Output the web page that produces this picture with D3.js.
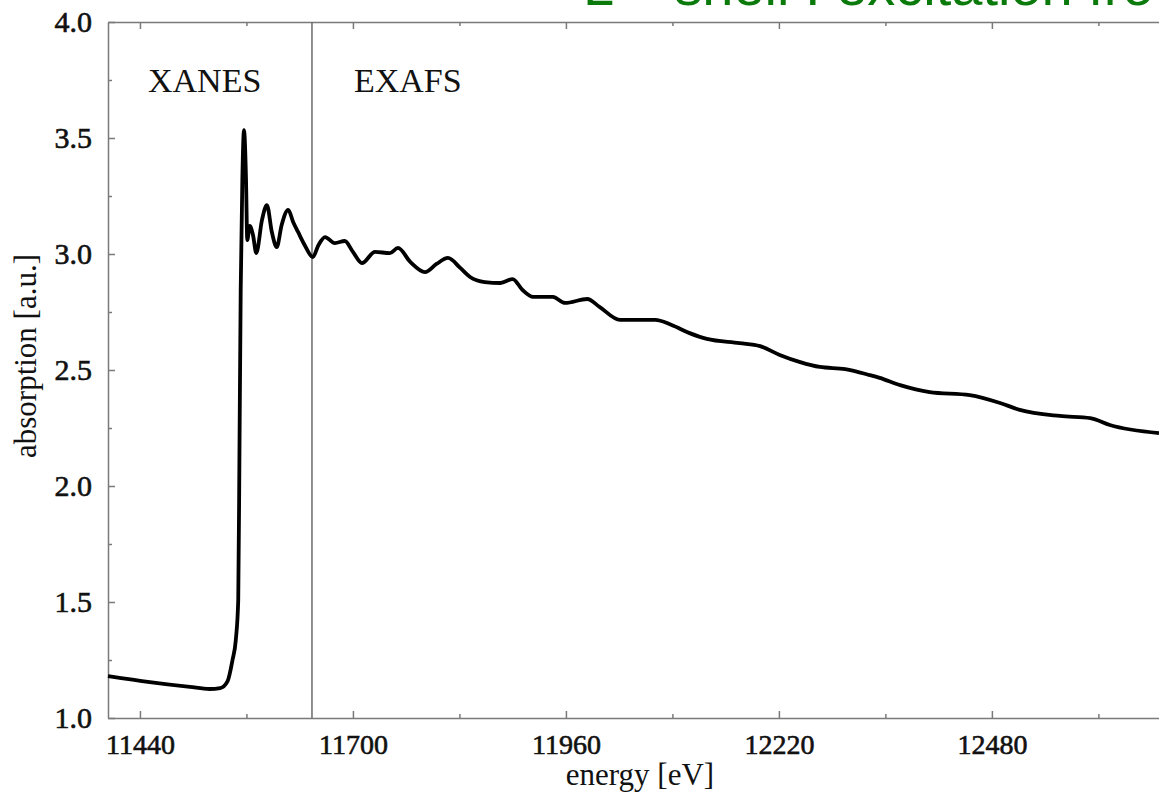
<!DOCTYPE html>
<html>
<head>
<meta charset="utf-8">
<script src="https://cdn.jsdelivr.net/npm/d3@7/dist/d3.min.js"></script>
<style>
  html, body { margin: 0; padding: 0; background: #fff; }
  svg { display: block; }
  .axis path, .axis line { stroke: #7a7a7a; stroke-width: 1.5; }
  .axis text { font-family: "Liberation Serif", "Times New Roman", serif; fill: #111; stroke: #111; stroke-width: 0.6; }
</style>
</head>
<body>
<svg id="chart" width="1159" height="794"></svg>
<script>
// Pt L3 edge absorption spectrum (energy in eV, absorption in a.u.)
const energy = [
  11401, 11452, 11501, 11525, 11538, 11547, 11553, 11557, 11560, 11561.5,
  11563, 11565, 11567, 11569.5, 11571, 11574, 11578, 11582, 11589, 11595,
  11601, 11607, 11613, 11621, 11627, 11633, 11641, 11651, 11658, 11666,
  11678, 11690, 11700, 11711, 11727, 11745, 11755, 11770, 11788, 11802,
  11816, 11831, 11843, 11861, 11880, 11895, 11907, 11920, 11944, 11959,
  11986, 12001, 12026, 12069, 12089, 12111, 12132, 12172, 12197, 12221,
  12246, 12270, 12301, 12331, 12343, 12368, 12404, 12453, 12490, 12514,
  12563, 12600, 12624, 12684
];
const absorption = [
  1.181, 1.155, 1.134, 1.125, 1.129, 1.159, 1.250, 1.336, 1.509, 2.155,
  2.845, 3.319, 3.534, 3.319, 3.060, 3.121, 3.082, 3.004, 3.147, 3.211,
  3.095, 3.030, 3.125, 3.190, 3.138, 3.095, 3.039, 2.987, 3.039, 3.073,
  3.047, 3.056, 3.009, 2.961, 3.009, 3.004, 3.026, 2.966, 2.922, 2.957,
  2.983, 2.940, 2.901, 2.879, 2.875, 2.892, 2.845, 2.815, 2.815, 2.789,
  2.806, 2.772, 2.716, 2.716, 2.694, 2.659, 2.634, 2.616, 2.603, 2.565,
  2.534, 2.513, 2.504, 2.478, 2.466, 2.435, 2.405, 2.392, 2.358, 2.328,
  2.302, 2.293, 2.263, 2.228
];

const xTicks = [11440, 11700, 11960, 12220, 12480];
const xMinorTicks = [11570, 11830, 12090, 12350, 12610];
const yTicks = [1.0, 1.5, 2.0, 2.5, 3.0, 3.5, 4.0];
const yMinorTicks = [1.25, 1.75, 2.25, 2.75, 3.25, 3.75];

const edgeSplit = 11650;                 // XANES / EXAFS boundary
const regionNames = ["XANES", "EXAFS"];
const regionCenters = [11519, 11767];

// slide heading, cropped at the top edge in the original
const slideTitle = "L – shell : excitation fro";

// ---------- layout ----------
const svg = d3.select("#chart");
const plotLeft = 108, plotTop = 22, plotRight = 1159, plotBottom = 718;

const x = d3.scaleLinear().domain([11401, 12684]).range([plotLeft, plotRight]);
const y = d3.scaleLinear().domain([1, 4]).range([plotBottom, plotTop]);

svg.append("text")
  .attr("x", 583).attr("y", 5)
  .attr("font-family", "Liberation Sans, Arial, sans-serif")
  .attr("font-size", 56)
  .attr("fill", "#0a7a0a")
  .text(slideTitle);

// ---------- axes ----------
const gBottom = svg.append("g").attr("class", "axis").attr("transform", `translate(0,${plotBottom})`);
gBottom.call(d3.axisBottom(x).tickValues(xTicks).tickSize(-7).tickSizeOuter(0)
  .tickPadding(16).tickFormat(d3.format("d")));
gBottom.append("g").call(d3.axisBottom(x).tickValues(xMinorTicks).tickSize(-4).tickFormat(""))
  .select(".domain").remove();
gBottom.selectAll("text").attr("font-size", 28);

const gTop = svg.append("g").attr("class", "axis").attr("transform", `translate(0,${plotTop})`);
gTop.call(d3.axisTop(x).tickValues(xTicks).tickSize(-7).tickSizeOuter(0).tickFormat(""));
gTop.append("g").call(d3.axisTop(x).tickValues(xMinorTicks).tickSize(-4).tickFormat(""))
  .select(".domain").remove();

const gLeft = svg.append("g").attr("class", "axis").attr("transform", `translate(${plotLeft},0)`);
gLeft.call(d3.axisLeft(y).tickValues(yTicks).tickSize(-7).tickSizeOuter(0)
  .tickPadding(16).tickFormat(d3.format(".1f")));
gLeft.append("g").call(d3.axisLeft(y).tickValues(yMinorTicks).tickSize(-4).tickFormat(""))
  .select(".domain").remove();
gLeft.selectAll("text").attr("font-size", 30);

// XANES / EXAFS divider
svg.append("line")
  .attr("x1", x(edgeSplit)).attr("x2", x(edgeSplit))
  .attr("y1", plotTop).attr("y2", plotBottom)
  .attr("stroke", "#6a6a6a").attr("stroke-width", 1.5);

svg.selectAll(".region")
  .data(regionNames)
  .join("text")
  .attr("class", "region")
  .attr("x", (d, i) => x(regionCenters[i]))
  .attr("y", 92)
  .attr("text-anchor", "middle")
  .attr("font-family", "Liberation Serif, serif")
  .attr("font-size", 34)
  .attr("fill", "#111")
  .text(d => d);

// ---------- spectrum ----------
const points = energy.map((e, i) => [e, absorption[i]]);
const line = d3.line()
  .x(d => x(d[0]))
  .y(d => y(d[1]))
  .curve(d3.curveMonotoneX);

svg.append("path")
  .datum(points)
  .attr("fill", "none")
  .attr("stroke", "#000")
  .attr("stroke-width", 3.8)
  .attr("stroke-linejoin", "round")
  .attr("d", line);

// ---------- axis titles ----------
svg.append("text")
  .attr("x", 640).attr("y", 785)
  .attr("text-anchor", "middle")
  .attr("font-family", "Liberation Serif, serif")
  .attr("font-size", 31)
  .attr("fill", "#111")
  .text("energy [eV]");

svg.append("text")
  .attr("transform", `translate(36,${(plotTop + plotBottom) / 2 - 14}) rotate(-90)`)
  .attr("text-anchor", "middle")
  .attr("font-family", "Liberation Serif, serif")
  .attr("font-size", 31)
  .attr("fill", "#111")
  .text("absorption [a.u.]");
</script>
</body>
</html>
